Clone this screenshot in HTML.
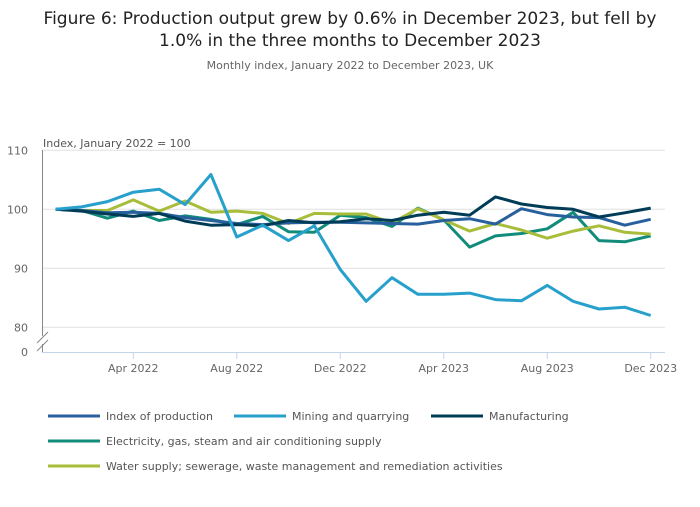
<!DOCTYPE html>
<html><head><meta charset="utf-8"><style>
body{margin:0;background:#fff;font-family:"Liberation Sans",sans-serif;}
svg text{font-family:"DejaVu Sans","Liberation Sans",sans-serif;}
</style></head><body>
<svg id="chart" width="700" height="502" viewBox="0 0 700 502">
<text x="350" y="24" text-anchor="middle" font-size="17" fill="#222">Figure 6: Production output grew by 0.6% in December 2023, but fell by</text>
<text x="350" y="46" text-anchor="middle" font-size="17" fill="#222">1.0% in the three months to December 2023</text>
<text x="350" y="69" text-anchor="middle" font-size="11" fill="#666">Monthly index, January 2022 to December 2023, UK</text>
<text x="43" y="147" font-size="11" fill="#555">Index, January 2022 = 100</text>
<g id="grid"></g>
<g id="lines"></g>
<g id="legend"></g>
</svg>
<script>
const months=["Jan 2022","Feb 2022","Mar 2022","Apr 2022","May 2022","Jun 2022","Jul 2022","Aug 2022","Sep 2022","Oct 2022","Nov 2022","Dec 2022","Jan 2023","Feb 2023","Mar 2023","Apr 2023","May 2023","Jun 2023","Jul 2023","Aug 2023","Sep 2023","Oct 2023","Nov 2023","Dec 2023"];
const xTickIdx=[3,7,11,15,19,23];
const xTickLabels=["Apr 2022","Aug 2022","Dec 2022","Apr 2023","Aug 2023","Dec 2023"];
const yTicks=[80,90,100,110];
const seriesNames=["Index of production","Mining and quarrying","Manufacturing","Electricity, gas, steam and air conditioning supply","Water supply; sewerage, waste management and remediation activities"];
const iop=[100,99.8,99.4,99.5,99.3,98.6,98.1,97.6,97.4,97.7,97.8,97.8,97.7,97.6,97.5,98.1,98.4,97.5,100.1,99.1,98.7,98.6,97.3,98.3];
const mining=[100,100.4,101.3,102.9,103.4,100.8,105.9,95.3,97.3,94.7,97.2,89.8,84.4,88.4,85.6,85.6,85.8,84.7,84.5,87.1,84.4,83.1,83.4,82.0];
const manuf=[100,99.7,99.2,98.8,99.3,98.0,97.3,97.4,97.2,98.1,97.7,97.9,98.4,98.1,99.0,99.5,99.0,102.1,100.9,100.3,100.0,98.7,99.4,100.2];
const elec=[100,99.8,98.5,99.7,98.1,98.9,98.3,97.4,98.8,96.2,96.1,99.0,98.6,97.1,100.2,98.2,93.6,95.5,95.9,96.7,99.5,94.7,94.5,95.5];
const water=[100,99.8,99.8,101.6,99.7,101.4,99.5,99.7,99.3,97.6,99.3,99.2,99.2,97.7,100.1,98.2,96.3,97.6,96.5,95.1,96.3,97.2,96.1,95.8];
const allSeries=[iop,mining,manuf,elec,water];
const colors=["#27609c","#27a0cc","#003c57","#118c7b","#a8bd3a"];
const NS="http://www.w3.org/2000/svg";
const x=i=>55.7+i*25.87;
const y=v=>209.3-(v-100)*5.9;
function mk(tag,attrs,parent){const e=document.createElementNS(NS,tag);for(const k in attrs)e.setAttribute(k,attrs[k]);parent.appendChild(e);return e;}
const grid=document.getElementById('grid');
yTicks.forEach(t=>{
 const l=mk('line',{x1:42,x2:665,y1:y(t),y2:y(t),stroke:'#e0e0e0','stroke-width':1},grid);
 
 
 const tx=mk('text',{x:28,y:y(t)+4,'text-anchor':'end','font-size':11,fill:'#666'},grid);
 tx.textContent=t;
 
 
});
const z=mk('text',{x:28,y:356,'text-anchor':'end','font-size':11,fill:'#666'},grid);z.textContent='0';


const ya=mk('path',{d:'M42.5 150V336M42.5 344V352',stroke:'#888','stroke-width':1,fill:'none'},grid);


const br=mk('path',{d:'M37 343L48 332M37 351L48 340',stroke:'#888','stroke-width':1,fill:'none'},grid);


const xa=mk('line',{x1:42,x2:665,y1:352.5,y2:352.5,stroke:'#c5d3e8','stroke-width':1},grid);


xTickIdx.forEach((idx,k)=>{
 const tk=mk('line',{x1:x(idx),x2:x(idx),y1:352,y2:359,stroke:'#c5d3e8'},grid);
 
 
 const tx=mk('text',{x:x(idx),y:372,'text-anchor':'middle','font-size':11,fill:'#666'},grid);
 tx.textContent=xTickLabels[k];
 
 
});
const lines=document.getElementById('lines');
const order=[3,4,0,2,1];
order.forEach(s=>{
 const d=allSeries[s].map((v,i)=>(i?'L':'M')+x(i).toFixed(1)+' '+y(v).toFixed(1)).join('');
 const p=mk('path',{d:d,stroke:colors[s],'stroke-width':3,fill:'none','stroke-linejoin':'round'},lines);
 
 
});
const lg=document.getElementById('legend');
const lpos=[[48,416],[234,416],[431,416],[48,441],[48,466]];
seriesNames.forEach((n,s)=>{
 const [lx,ly]=lpos[s];
 const l=mk('line',{x1:lx,x2:lx+52,y1:ly,y2:ly,stroke:colors[s],'stroke-width':3},lg);
 
 
 const t=mk('text',{x:lx+58,y:ly+4,'font-size':11,fill:'#555'},lg);
 t.textContent=n;
 
 
});
</script>
</body></html>
